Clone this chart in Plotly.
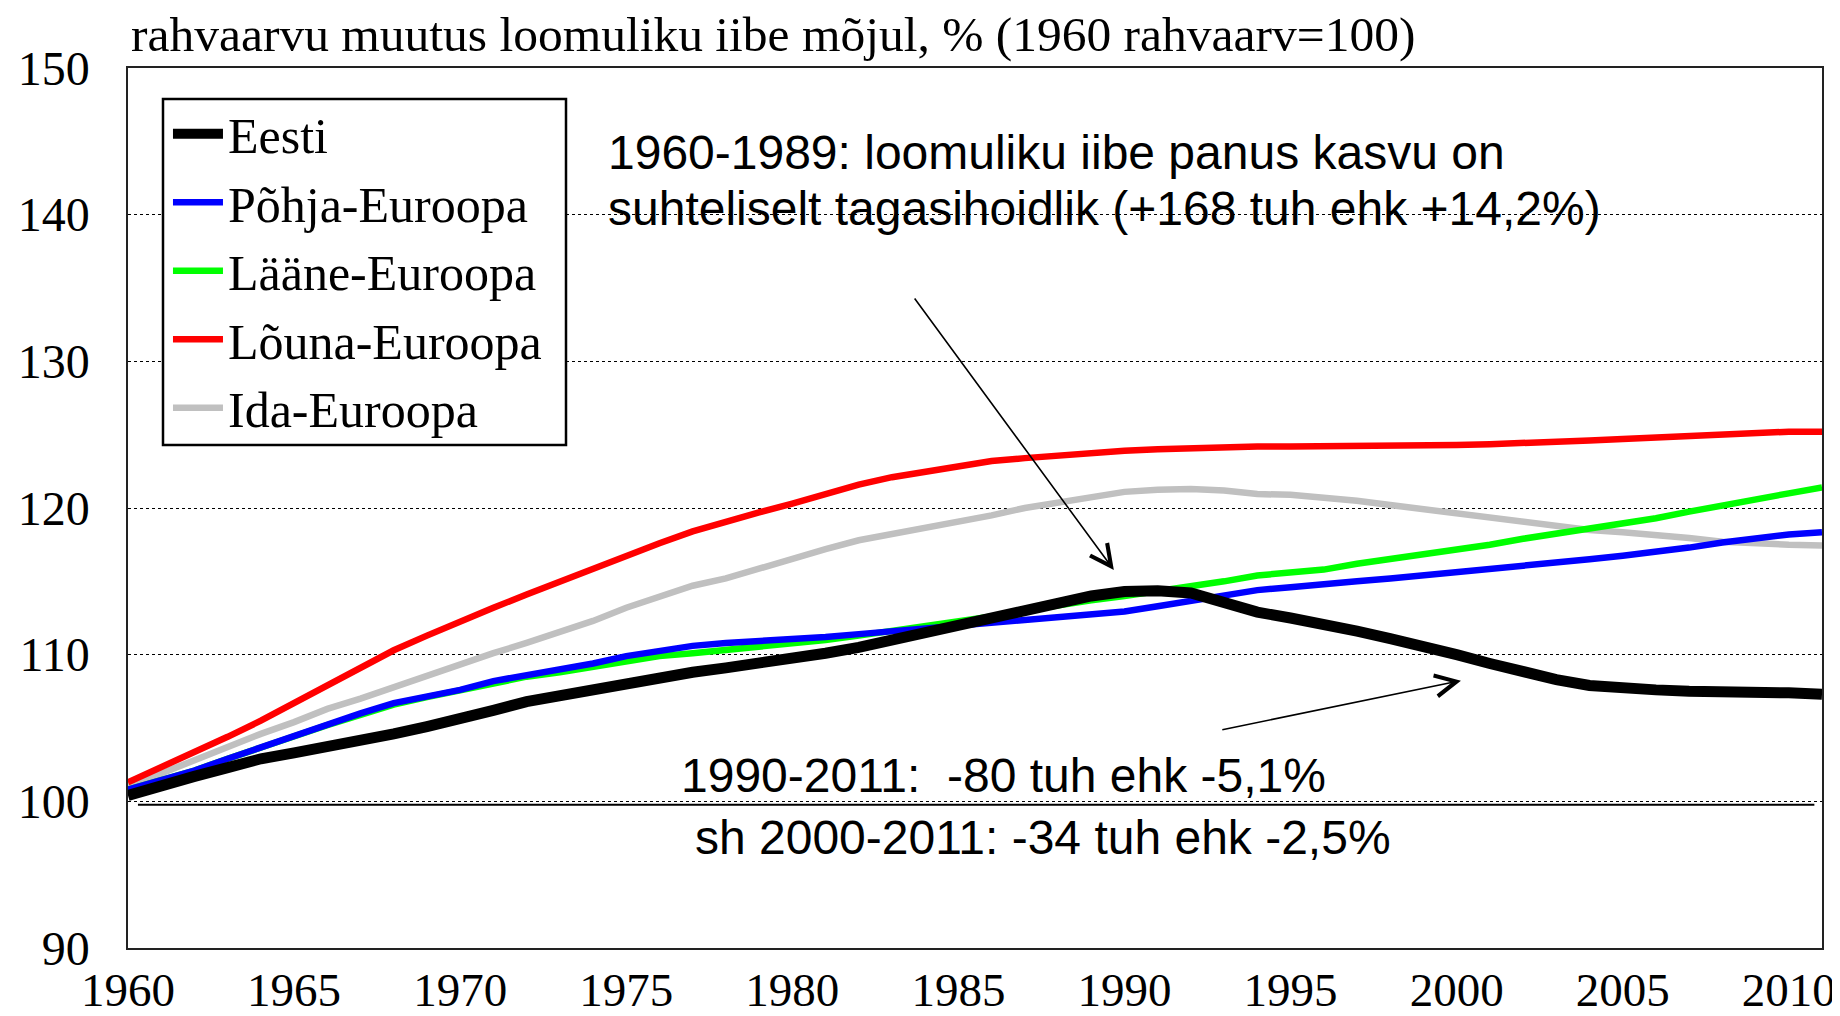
import plotly.graph_objects as go

years = list(range(1960, 2012))

eesti = [100.4, 101.1, 101.7, 102.3, 102.9, 103.3, 103.7, 104.2, 104.6, 105.1,
         105.6, 106.2, 106.8, 107.2, 107.6, 108.1, 108.5, 108.8, 109.1, 109.4,
         109.7, 110.1, 110.5, 111.0, 111.5, 112.0, 112.5, 113.0, 113.5, 114.0,
         114.3, 114.35, 114.2, 113.6, 112.9, 112.5, 112.1, 111.6, 111.1, 110.6,
         110.0, 109.4, 108.8, 108.3, 107.9, 107.7, 107.6, 107.5, 107.5, 107.45,
         107.4, 107.3]

pohja = [100.8, 101.4, 102.1, 102.9, 103.7, 104.5, 105.2, 106.0, 106.7, 107.1,
         107.6, 108.2, 108.6, 108.9, 109.4, 109.9, 110.3, 110.6, 110.8, 110.9,
         111.0, 111.2, 111.4, 111.6, 111.8, 112.0, 112.2, 112.35, 112.5, 112.7,
         112.95, 113.3, 113.7, 114.1, 114.4, 114.6, 114.75, 115.0, 115.2, 115.4,
         115.65, 115.85, 116.1, 116.3, 116.5, 116.75, 117.0, 117.3, 117.65, 117.95,
         118.2, 118.35]

laane = [100.8, 101.4, 102.1, 102.9, 103.7, 104.5, 105.2, 105.9, 106.6, 107.1,
         107.6, 108.1, 108.5, 108.8, 109.2, 109.6, 109.9, 110.1, 110.3, 110.5,
         110.7, 111.0, 111.3, 111.6, 111.9, 112.2, 112.6, 113.0, 113.4, 113.7,
         114.0, 114.3, 114.6, 115.0, 115.4, 115.6, 115.8, 116.2, 116.5, 116.8,
         117.1, 117.5, 117.9, 118.25, 118.6, 118.9, 119.3, 119.75, 120.2, 120.6,
         121.0, 121.4]

louna = [101.3, 102.3, 103.3, 104.4, 105.5, 106.7, 107.9, 109.2, 110.3, 111.3,
         112.3, 113.2, 114.1, 115.0, 115.9, 116.8, 117.6, 118.4, 119.1, 119.7,
         120.3, 121.0, 121.6, 122.1, 122.5, 122.9, 123.2, 123.4, 123.6, 123.8,
         123.9, 124.0, 124.1, 124.2, 124.2, 124.2, 124.2, 124.2, 124.2, 124.2,
         124.3, 124.35, 124.4, 124.5, 124.6, 124.7, 124.8, 124.9, 125.05, 125.15,
         125.2, 125.2]

ida = [101.0, 101.9, 102.9, 103.7, 104.6, 105.4, 106.3, 107.0, 107.8, 108.6,
       109.4, 110.1, 110.8, 111.5, 112.3, 113.2, 114.0, 114.7, 115.2, 115.9,
       116.5, 117.2, 117.8, 118.2, 118.6, 119.1, 119.5, 120.0, 120.4, 120.8,
       121.1, 121.25, 121.3, 121.2, 120.95, 120.9, 120.75, 120.5, 120.2, 119.9,
       119.6, 119.35, 119.1, 118.8, 118.5, 118.35, 118.2, 117.95, 117.7, 117.55,
       117.5, 117.45]

series_names = ["Eesti", "Põhja-Euroopa", "Lääne-Euroopa", "Lõuna-Euroopa", "Ida-Euroopa"]
series_values = [eesti, pohja, laane, louna, ida]
series_colors = ["#000000", "#0000FF", "#00FF00", "#FF0000", "#C0C0C0"]
series_widths = [11, 6.5, 6.5, 6.5, 6.5]

x_ticks = list(range(1960, 2011, 5))
y_ticks = list(range(90, 151, 10))

title_text = "rahvaarvu muutus loomuliku iibe mõjul, % (1960 rahvaarv=100)"
note1_lines = ["1960-1989: loomuliku iibe panus kasvu on",
               "suhteliselt tagasihoidlik (+168 tuh ehk +14,2%)"]
note2_lines = ["1990-2011:  -80 tuh ehk -5,1%",
               "sh 2000-2011: -34 tuh ehk -2,5%"]

SERIF = "Liberation Serif, Times New Roman, serif"
SANS = "Liberation Sans, Arial, sans-serif"

fig = go.Figure()
# draw order: grey at bottom, black on top
for i in [4, 3, 2, 1, 0]:
    fig.add_trace(go.Scatter(
        x=years, y=series_values[i], mode="lines", name=series_names[i],
        line=dict(color=series_colors[i], width=series_widths[i]),
        legendgroup=series_names[i], legendrank=i + 1,
    ))

annotations = [
    dict(text=title_text, xref="paper", yref="paper", x=0.0003, y=1.0375,
         xanchor="left", yanchor="middle", showarrow=False,
         font=dict(family=SERIF, size=49.5, color="black")),
    dict(text=note1_lines[0], xref="x", yref="y", x=1974.4, y=144.25,
         xanchor="left", yanchor="middle", showarrow=False,
         font=dict(family=SANS, size=48, color="black")),
    dict(text=note1_lines[1], xref="x", yref="y", x=1974.4, y=140.45,
         xanchor="left", yanchor="middle", showarrow=False,
         font=dict(family=SANS, size=48, color="black")),
    dict(text=note2_lines[0], xref="x", yref="y", x=1976.6, y=101.76,
         xanchor="left", yanchor="middle", showarrow=False,
         font=dict(family=SANS, size=48, color="black")),
    dict(text=note2_lines[1], xref="x", yref="y", x=1977.0, y=97.55,
         xanchor="left", yanchor="middle", showarrow=False,
         font=dict(family=SANS, size=48, color="black")),
    # arrows
    dict(text="", x=1989.68, y=115.77, xref="x", yref="y",
         ax=1983.65, ay=134.39, axref="x", ayref="y",
         showarrow=True, arrowhead=5, arrowsize=2.6, arrowwidth=1.6,
         arrowcolor="black", standoff=0),
    dict(text="", x=2000.13, y=108.23, xref="x", yref="y",
         ax=1992.9, ay=104.86, axref="x", ayref="y",
         showarrow=True, arrowhead=5, arrowsize=2.6, arrowwidth=1.6,
         arrowcolor="black", standoff=0),
]

shapes = [
    # separator line between the two lower texts
    dict(type="line", xref="x", yref="y", x0=1960.3, x1=2010.77, y0=99.77, y1=99.77,
         line=dict(color="black", width=2)),
    # legend frame
    dict(type="rect", xref="paper", yref="paper", x0=0.02066, x1=0.25856,
         y0=0.57159, y1=0.96477, fillcolor="white",
         line=dict(color="black", width=2.5), layer="above"),
]

# the page body adds an 8px offset; margins compensate for it
fig.update_layout(
    width=1840, height=1016,
    margin=dict(l=120, r=26, t=60, b=76, pad=0),
    paper_bgcolor="white", plot_bgcolor="white",
    showlegend=True,
    legend=dict(
        x=0.0236, y=0.9695, xanchor="left", yanchor="top",
        bgcolor="rgba(0,0,0,0)", borderwidth=0,
        font=dict(family=SERIF, size=50, color="black"),
        traceorder="grouped", tracegroupgap=0.5, itemwidth=50,
    ),
    annotations=annotations,
    shapes=shapes,
    xaxis=dict(
        range=[1960, 2011], tickmode="array", tickvals=x_ticks,
        ticktext=[str(v) for v in x_ticks],
        tickfont=dict(family=SERIF, size=47, color="black"),
        showgrid=False, zeroline=False, ticks="", automargin=False,
        showline=True, linecolor="#222222", linewidth=1.5, mirror=True,
        ticklabelstandoff=0,
    ),
    yaxis=dict(
        range=[90, 150], tickmode="array", tickvals=y_ticks,
        ticktext=[str(v) for v in y_ticks],
        tickfont=dict(family=SERIF, size=48, color="black"),
        showgrid=True, gridcolor="#000000", gridwidth=1, griddash="dot",
        zeroline=False, ticks="", automargin=False,
        showline=True, linecolor="#222222", linewidth=1.5, mirror=True,
        ticklabelstandoff=27,
    ),
)

fig.write_html("out.html")
